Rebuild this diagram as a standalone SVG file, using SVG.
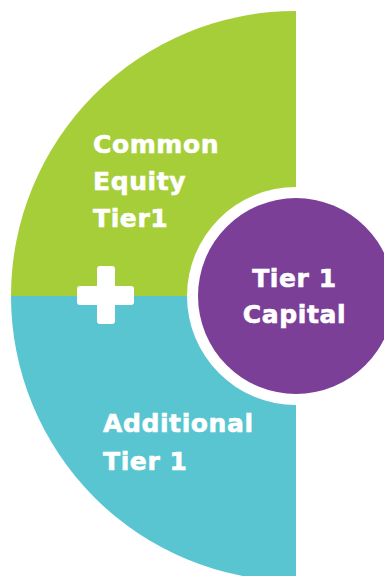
<svg xmlns="http://www.w3.org/2000/svg" width="384" height="576" viewBox="0 0 384 576">
<style>
.t{font-family:"DejaVu Sans",Verdana,sans-serif;font-weight:bold;font-size:25px;letter-spacing:0.6px;fill:#fff;stroke:#fff;stroke-width:0.6px}
</style>
<rect width="384" height="576" fill="#fff"/>
<g id="common-equity">
<path d="M296,296 L11,296 A285,285 0 0 1 296,11 Z" fill="#a6ce39"/>
<text class="t" x="93" y="153">Common</text>
<text class="t" x="93" y="190">Equity</text>
<text class="t" x="93" y="227">Tier1</text>
</g>
<g id="additional-tier1">
<path d="M296,296 L11,296 A285,285 0 0 0 296,581 Z" fill="#58c5d0"/>
<text class="t" x="103" y="432">Additional</text>
<text class="t" x="103" y="470">Tier 1</text>
</g>
<g id="plus">
<rect x="77" y="286" width="57" height="19" rx="3" fill="#fff"/>
<rect x="97" y="266" width="18" height="58" rx="3" fill="#fff"/>
</g>
<g id="tier1-capital">
<circle cx="296" cy="296" r="109" fill="#fff"/>
<circle cx="296" cy="296" r="98" fill="#7b3f98"/>
<text class="t" x="294.5" y="287" text-anchor="middle">Tier 1</text>
<text class="t" x="294.5" y="323" text-anchor="middle">Capital</text>
</g>
<g id="connectors"/>
</svg>
